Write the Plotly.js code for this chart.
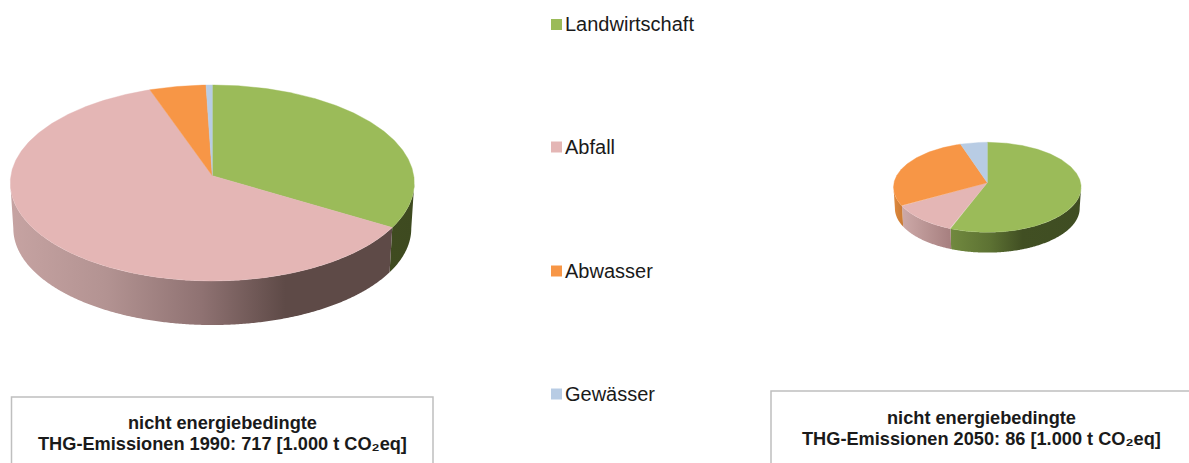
<!DOCTYPE html>
<html>
<head>
<meta charset="utf-8">
<script src="https://cdn.plot.ly/plotly-3.0.1.min.js"></script>
<style>html,body{margin:0;padding:0;background:#fff;overflow:hidden}</style>
</head>
<body>
<div id="chart" style="width:1189px;height:463px"></div>
<script>
// Data: share of each category in percent
const categories = ["Landwirtschaft", "Abfall", "Abwasser", "Gewässer"];
const shares1990 = [32.5, 62.5, 4.5, 0.5];
const shares2050 = [56.4, 11.8, 27.2, 4.6];
const boxLines1990 = ["nicht energiebedingte", "THG-Emissionen 1990: 717 [1.000 t CO₂eq]"];
const boxLines2050 = ["nicht energiebedingte", "THG-Emissionen 2050: 86 [1.000 t CO₂eq]"];

// Styles and geometry
const faceColors = ["#9BBB59", "#E4B6B5", "#F79646", "#B8CCE4"];
const FONT = "Liberation Sans, Arial, sans-serif";
const pies = [
  { shares: shares1990, cx: 212.3, ax: 212.3, ay: 175.7, ey: 183, rx: 202, ry: 98, depth: 45.5, botScale: 0.985,
    walls: {
      0: [[0, "#3F4B20"], [1, "#3E4A20"]],
      1: [[0, "#C6A3A2"], [0.25, "#B39392"], [0.5, "#8F7272"], [0.72, "#5E4A47"], [1, "#5E4A47"]]
    } },
  { shares: shares2050, cx: 987.3, ax: 987.3, ay: 182.7, ey: 187.3, rx: 93.8, ry: 45, depth: 21, botScale: 0.985,
    walls: {
      0: [[0, "#71893F"], [0.3, "#5D7233"], [0.55, "#414F23"], [1, "#3F4D22"]],
      1: [[0, "#CDA9A8"], [1, "#A67F7F"]],
      2: [[0, "#E08A3E"], [1, "#C97A34"]]
    } }
];

function pt(p, deg, dy, s) {
  const t = deg * Math.PI / 180;
  return [p.cx + p.rx * s * Math.sin(t), p.ey + dy - p.ry * s * Math.cos(t)];
}
function arc(p, a0, a1, dy, s) {
  const n = Math.max(2, Math.ceil(Math.abs(a1 - a0) * 2));
  const out = [];
  for (let i = 0; i <= n; i++) out.push(pt(p, a0 + (a1 - a0) * i / n, dy, s));
  return out;
}

const traces = [];
pies.forEach(function (p) {
  const total = p.shares.reduce(function (a, b) { return a + b; }, 0);
  let cum = 0;
  const spans = p.shares.map(function (v) {
    const a0 = cum / total * 360; cum += v;
    return [a0, cum / total * 360];
  });
  // side walls, visible only on the front half
  spans.forEach(function (sp, i) {
    const a0 = Math.max(sp[0], 90), a1 = Math.min(sp[1], 270);
    if (a1 <= a0 || !p.walls[i]) return;
    const pts = arc(p, a0, a1, 0, 1).concat(arc(p, a1, a0, p.depth, p.botScale));
    traces.push({
      type: "scatter", mode: "none", hoverinfo: "skip", showlegend: false,
      x: pts.map(function (q) { return q[0]; }), y: pts.map(function (q) { return q[1]; }),
      fill: "toself",
      fillgradient: { type: "horizontal", colorscale: p.walls[i] }
    });
  });
  // top faces
  spans.forEach(function (sp, i) {
    const pts = [[p.ax, p.ay]].concat(arc(p, sp[0], sp[1], 0, 1)).concat([[p.ax, p.ay]]);
    traces.push({
      type: "scatter", mode: "lines", name: categories[i], hoverinfo: "skip", showlegend: false,
      x: pts.map(function (q) { return q[0]; }), y: pts.map(function (q) { return q[1]; }),
      fill: "toself", fillcolor: faceColors[i],
      line: { color: faceColors[i], width: 0.4 }
    });
  });
});

// legend column
const legendY = [24, 146.5, 270.5, 393.5];
categories.forEach(function (c, i) {
  traces.push({
    type: "scatter", mode: "markers", hoverinfo: "skip", showlegend: false,
    x: [556.5], y: [legendY[i] + 0.5], name: c,
    marker: { symbol: "square", size: 11, color: faceColors[i] }
  });
});

function boxText(x, y, text) {
  return { x: x, y: y, text: text, showarrow: false, xanchor: "center", yanchor: "middle",
    font: { family: FONT, size: 18.2, color: "#1a1a1a", weight: 700 } };
}
function legendText(y, text) {
  return { x: 565.5, y: y, text: text, showarrow: false, xanchor: "left", yanchor: "middle", xshift: -2.5,
    font: { family: FONT, size: 20, color: "#1a1a1a" } };
}

const boxLine = { color: "#BFBFBF", width: 1.5 };
const layout = {
  width: 1189, height: 463,
  margin: { l: 0, r: 0, t: 0, b: 0, pad: 0 },
  paper_bgcolor: "#fff", plot_bgcolor: "#fff",
  showlegend: false,
  xaxis: { range: [0, 1189], visible: false, fixedrange: true },
  yaxis: { range: [463, 0], visible: false, fixedrange: true },
  shapes: [
    { type: "rect", xref: "x", yref: "y", x0: 11.5, x1: 433, y0: 397, y1: 480, line: boxLine },
    { type: "rect", xref: "x", yref: "y", x0: 771, x1: 1200, y0: 391, y1: 480, line: boxLine }
  ],
  annotations: [
    boxText(222, 423, boxLines1990[0]),
    boxText(222, 443.5, boxLines1990[1]),
    boxText(981.5, 418, boxLines2050[0]),
    boxText(981.5, 438.5, boxLines2050[1])
  ].concat(categories.map(function (c, i) { return legendText(legendY[i], c); }))
};
Plotly.newPlot("chart", traces, layout, { displayModeBar: false, staticPlot: true });
</script>
</body>
</html>
